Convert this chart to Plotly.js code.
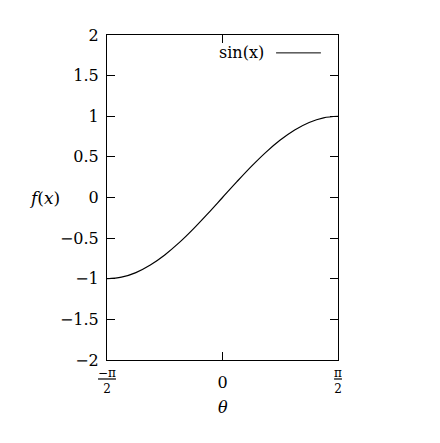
<!DOCTYPE html>
<html><head><meta charset="utf-8">
<script src="https://cdn.plot.ly/plotly-3.0.1.min.js"></script>
<style>body{margin:0;background:#fff}</style>
</head><body>
<div id="chart" style="width:440px;height:443px"></div>
<script>
// theta samples (radians) and sin values
const theta = [-1.5708,-1.3744,-1.1781,-0.9817,-0.7854,-0.5890,-0.3927,-0.1963,0,0.1963,0.3927,0.5890,0.7854,0.9817,1.1781,1.3744,1.5708];
const fval  = [-1.0,-0.981,-0.924,-0.831,-0.707,-0.556,-0.383,-0.195,0,0.195,0.383,0.556,0.707,0.831,0.924,0.981,1.0];
const xTickVals = [-1.5708, 0, 1.5708];
const xTickText = ['<span style="text-decoration:underline">−π</span><br>2', '<span style="font-size:1px"> </span><br><sup><span style="font-size:16px">0</span></sup>', '<span style="text-decoration:underline">π</span><br>2'];
const seriesName = 'sin(x)';

const F = "DejaVu Serif";
const data = [{
  x: theta, y: fval, type: 'scatter', mode: 'lines',
  line: {color: '#000', width: 1.2, shape: 'spline'},
  showlegend: false, name: seriesName, hoverinfo: 'skip'
}];
const layout = {
  width: 440, height: 443,
  margin: {l: 107, r: 102, t: 35, b: 83},
  paper_bgcolor: '#fff', plot_bgcolor: '#fff',
  font: {family: F, size: 16, color: '#000'},
  xaxis: {
    range: [-1.5708, 1.5708], tickvals: xTickVals, ticktext: xTickText,
    ticks: 'inside', ticklen: 8, tickcolor: '#000', tickwidth: 1,
    showline: true, linecolor: '#000', linewidth: 1, mirror: 'ticks',
    showgrid: false, zeroline: false, tickfont: {family: F, size: 12},
    ticklabelstandoff: 2
  },
  yaxis: {
    range: [-2, 2], dtick: 0.5, tick0: 0,
    ticks: 'inside', ticklen: 8, tickcolor: '#000', tickwidth: 1,
    showline: true, linecolor: '#000', linewidth: 1, mirror: 'ticks',
    showgrid: false, zeroline: false, tickfont: {family: F, size: 16},
    ticklabelstandoff: 4
  },
  annotations: [
    {text: '<i>f</i>(<i>x</i>)', xref: 'paper', yref: 'paper', x: -0.27, y: 0.5,
     xanchor: 'center', yanchor: 'middle', showarrow: false, font: {family: F, size: 17}},
    {text: '<i>θ</i>', xref: 'paper', yref: 'paper', x: 0.5, y: -0.145,
     xanchor: 'center', yanchor: 'middle', showarrow: false, font: {family: F, size: 16}},
    {text: seriesName, xref: 'paper', yref: 'paper', x: 0.69, y: 0.945,
     xanchor: 'right', yanchor: 'middle', showarrow: false, font: {family: F, size: 16}}
  ],
  shapes: [
    {type: 'line', xref: 'paper', yref: 'paper', x0: 0.732, x1: 0.926, y0: 0.945, y1: 0.945,
     line: {color: '#000', width: 1}}
  ]
};
Plotly.newPlot('chart', data, layout, {staticPlot: true});
</script>
</body></html>
